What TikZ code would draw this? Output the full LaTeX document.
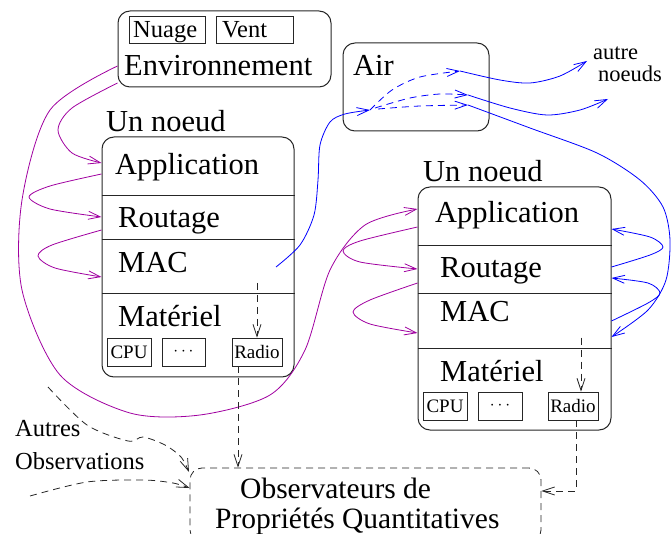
\documentclass[tikz,border=0pt]{standalone}
\usepackage{fontspec}
\setmainfont{Liberation Serif}
\usetikzlibrary{arrows.meta}
\definecolor{fluxviolet}{RGB}{160,0,160}
\definecolor{fluxbleu}{RGB}{0,0,255}
\tikzset{
  bloc/.style={draw=black!85,line width=1pt,rounded corners=12pt,inner sep=0pt},
  piece/.style={draw=black!85,line width=0.9pt,inner sep=0pt},
  grand/.style={font=\fontsize{30.5}{36}\selectfont,anchor=base west,inner sep=0pt},
  moyen/.style={font=\fontsize{24.5}{28}\selectfont,anchor=base west,inner sep=0pt},
  petit/.style={font=\fontsize{19}{22}\selectfont},
  fluxv/.style={draw=fluxviolet,line width=0.8pt,->},
  fluxb/.style={draw=fluxbleu,line width=0.8pt,->},
  mesure/.style={draw=black!85,line width=0.8pt,dash pattern=on 7pt off 5pt,->}
}
\begin{document}
\begin{tikzpicture}[x=1pt,y=-1pt,>={Straight Barb[length=12pt,width=8pt]}]
\useasboundingbox (0,0) rectangle (672,534);
% ---- environnement et air ----
\node[bloc,minimum width=213pt,minimum height=76pt] (env) at (224.5,49) {};
\node[piece,minimum width=76pt,minimum height=27pt] (nuage) at (167,29.5) {};
\node[piece,minimum width=77pt,minimum height=27pt] (vent) at (254.5,29.5) {};
\node[moyen] (nuagetxt) at (133,38) {Nuage};
\node[moyen] (venttxt) at (222,38) {Vent};
\node[grand] (envtxt) at (124,76) {Environnement};
\node[bloc,minimum width=146pt,minimum height=88pt] (air) at (416,87) {};
\node[grand] (airtxt) at (353,76) {Air};
\node[font=\fontsize{22.5}{26}\selectfont,anchor=base west,inner sep=0pt] (autre) at (593,60) {autre};
\node[font=\fontsize{22.5}{26}\selectfont,anchor=base west,inner sep=0pt] (noeuds) at (598,82) {noeuds};
% ---- premier noeud ----
\node[grand] (titre1) at (106,132) {Un noeud};
\node[bloc,minimum width=192pt,minimum height=240pt] (n1) at (198,257) {};
\draw[black!85,line width=1pt] (n1.west |- 0,196) -- (n1.east |- 0,196);
\draw[black!85,line width=1pt] (n1.west |- 0,240) -- (n1.east |- 0,240);
\draw[black!85,line width=1pt] (n1.west |- 0,294) -- (n1.east |- 0,294);
\node[grand] (app1) at (115,175) {Application};
\node[grand] (rout1) at (118,228) {Routage};
\node[grand] (mac1) at (118,273) {MAC};
\node[grand] (mat1) at (118,327) {Matériel};
\node[piece,petit,minimum width=44pt,minimum height=28pt] (cpu1) at (129,352) {CPU};
\node[piece,petit,minimum width=43pt,minimum height=28pt] (dots1) at (183.5,352) {$\cdots$};
\node[piece,petit,minimum width=50pt,minimum height=28pt] (radio1) at (257,352) {Radio};
% ---- second noeud ----
\node[grand] (titre2) at (423,182) {Un noeud};
\node[bloc,minimum width=193pt,minimum height=243pt] (n2) at (514.5,308.5) {};
\draw[black!85,line width=1pt] (n2.west |- 0,246) -- (n2.east |- 0,246);
\draw[black!85,line width=1pt] (n2.west |- 0,294) -- (n2.east |- 0,294);
\draw[black!85,line width=1pt] (n2.west |- 0,349) -- (n2.east |- 0,349);
\node[grand] (app2) at (435,223) {Application};
\node[grand] (rout2) at (440,278) {Routage};
\node[grand] (mac2) at (440,322) {MAC};
\node[grand] (mat2) at (440,382) {Matériel};
\node[piece,petit,minimum width=44pt,minimum height=28pt] (cpu2) at (445,406) {CPU};
\node[piece,petit,minimum width=44pt,minimum height=28pt] (dots2) at (500,406) {$\cdots$};
\node[piece,petit,minimum width=50pt,minimum height=28pt] (radio2) at (573,406) {Radio};
% ---- observateurs ----
\node[draw=black!85,line width=0.8pt,dash pattern=on 7pt off 5pt,rounded corners=12pt,minimum width=351pt,minimum height=74pt,inner sep=0pt] (obs) at (365.5,505) {};
\node[font=\fontsize{29.5}{36}\selectfont,anchor=base west,inner sep=0pt] (obs1) at (240,498) {Observateurs de};
\node[font=\fontsize{29.5}{36}\selectfont,anchor=base west,inner sep=0pt] (obs2) at (215,528) {Propriétés Quantitatives};
\node[moyen] (autres) at (15,436) {Autres};
\node[moyen] (observ) at (15,469) {Observations};
% ---- flux violets ----
\draw[fluxv] plot[smooth] coordinates {(env.west |- 0,66) (50,110) (22,200) (22,290) (60,375) (130,413) (200,415) (270,395) (305,350) (330,270) (365,225) (n2.west |- 0,209)};
\draw[fluxv] plot[smooth] coordinates {(env.west |- 0,83) (72,108) (58,130) (72,153) (n1.west |- 0,163)};
\draw[fluxv] plot[smooth] coordinates {(n1.west |- 0,174) (50,186) (29,197) (50,209) (n1.west |- 0,217)};
\draw[fluxv] plot[smooth] coordinates {(n1.west |- 0,230) (52,245) (38,256) (55,268) (n1.west |- 0,277)};
\draw[fluxv] plot[smooth] coordinates {(n2.west |- 0,227) (360,241) (343,251) (360,262) (n2.west |- 0,269)};
\draw[fluxv] plot[smooth] coordinates {(n2.west |- 0,283) (370,300) (353,312) (370,324) (n2.west |- 0,333)};
% ---- flux bleus ----
\coordinate (emis) at (370,110);
\coordinate (sortA) at (460,71);
\coordinate (sortB) at (468,95);
\coordinate (sortC) at (468,105);
\draw[fluxb] plot[smooth] coordinates {(276,267) (300,245) (314,215) (318,180) (320,145) (330,122) (345,114) (emis)};
\draw[fluxb,dash pattern=on 7pt off 5pt] plot[smooth] coordinates {(emis) (392,90) (420,77) (sortA)};
\draw[fluxb,dash pattern=on 7pt off 5pt] plot[smooth] coordinates {(375,108) (410,98) (440,94) (sortB)};
\draw[fluxb,dash pattern=on 7pt off 5pt] plot[smooth] coordinates {(378,109) (420,106) (sortC)};
\draw[fluxb] plot[smooth] coordinates {(sortA) (500,80) (530,83) (560,76) (587,61)};
\draw[fluxb] plot[smooth] coordinates {(sortB) (510,108) (547,115) (580,110) (608,99)};
\draw[fluxb] plot[smooth] coordinates {(sortC) (530,128) (597,153) (640,180) (663,207) (670,240) (666,280) (648,310) (n2.east |- 0,337)};
\draw[fluxb] plot[smooth] coordinates {(n2.east |- 0,267) (650,255) (663,247) (650,237) (n2.east |- 0,229)};
\draw[fluxb] plot[smooth] coordinates {(n2.east |- 0,321) (648,303) (660,293) (648,283) (n2.east |- 0,278)};
% ---- mesures ----
\draw[mesure] (radio1.north |- 0,283) -- (radio1.north);
\draw[mesure] (radio1.south -| 238,0) -- (obs.north -| 238,0);
\draw[mesure] (radio2.north -| 581,0) ++(0,-54) -- (radio2.north -| 581,0);
\draw[mesure] (radio2.south -| 576,0) |- (obs.east |- 0,491);
\draw[mesure] plot[smooth] coordinates {(48,387) (87,425) (128,441) (143,437) (165,445) (181,457) (189,472)};
\draw[mesure] plot[smooth] coordinates {(30,496) (87,482) (143,480) (173,483) (obs.west |- 0,488)};
\end{tikzpicture}
\end{document}
